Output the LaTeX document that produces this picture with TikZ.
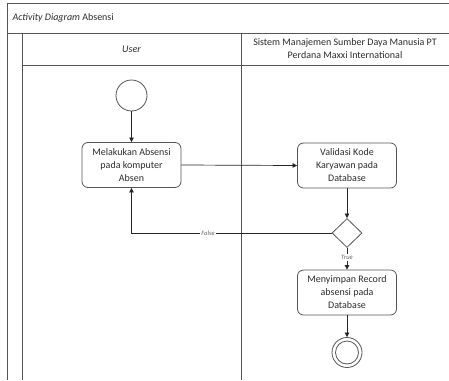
\documentclass[tikz,border=0pt]{standalone}
\usepackage{fontspec}
\setmainfont{Carlito}
\usetikzlibrary{shapes.geometric,arrows.meta}
\definecolor{edge}{HTML}{555555}
\definecolor{ink}{HTML}{2B2B2B}
\begin{document}
\begin{tikzpicture}[x=1pt,y=-1pt,
  lane/.style={draw=edge, line width=0.8pt},
  act/.style={draw=edge, line width=0.8pt, rounded corners=6pt,
    minimum width=99pt, minimum height=45pt, align=center, inner sep=2pt,
    text=ink, font=\fontsize{10}{13}\selectfont},
  startnode/.style={circle, draw=edge, line width=0.8pt, minimum size=31pt, inner sep=0pt},
  endring/.style={circle, draw=edge, line width=0.8pt, inner sep=0pt},
  decision/.style={diamond, draw=edge, line width=0.8pt, minimum width=30pt, minimum height=29pt, inner sep=0pt},
  flow/.style={draw=black!85, line width=0.7pt, -{Triangle[length=4.5pt,width=4.5pt]}},
  guard/.style={fill=white, inner sep=1pt, text=black!60, font=\fontsize{6.5}{7}\selectfont\itshape},
  hdr/.style={text=ink, font=\fontsize{10}{13}\selectfont, align=center}
]
\useasboundingbox (0,0) rectangle (449,380);

% swimlane frame
\draw[lane] (7,380) -- (7,3) -- (452,3);
\draw[lane] (7,33) -- (452,33);
\draw[lane] (22,33) -- (22,380);
\draw[lane] (22,65) -- (452,65);
\draw[lane] (241,33) -- (241,380);

% headers
\node[hdr, anchor=west] (title) at (9,18) {\textit{Activity Diagram} Absensi};
\node[hdr] (laneuser) at (131.5,49) {\textit{User}};
\node[hdr] (lanesys) at (345,49) {Sistem Manajemen Sumber Daya Manusia PT\\Perdana Maxxi International};

% activity nodes
\node[startnode] (start) at (131.5,95.5) {};
\node[act] (absen) at (131.5,165) {Melakukan Absensi\\pada komputer\\Absen};
\node[act] (validasi) at (347,165.5) {Validasi Kode\\Karyawan pada\\Database};
\node[decision] (cek) at (347,233) {};
\node[act] (simpan) at (347,292.5) {Menyimpan Record\\absensi pada\\Database};
\node[endring, minimum size=30pt] (finish) at (347,352.5) {};
\node[endring, minimum size=23pt] (finishin) at (347,352.5) {};
\coordinate (corner) at (131.5,233);

% control flow
\draw[flow] (start) -- (absen);
\draw[flow] (absen.east) -- (validasi.west);
\draw[flow] (validasi) -- (cek);
\draw[flow] (cek.west) -- (corner) -- (absen.south);
\draw[flow] (cek) -- (simpan);
\draw[flow] (simpan) -- (finish);

% guards
\node[guard] (lblfalse) at (208,233) {False};
\node[guard] (lbltrue) at (347,257.5) {True};
\end{tikzpicture}
\end{document}
